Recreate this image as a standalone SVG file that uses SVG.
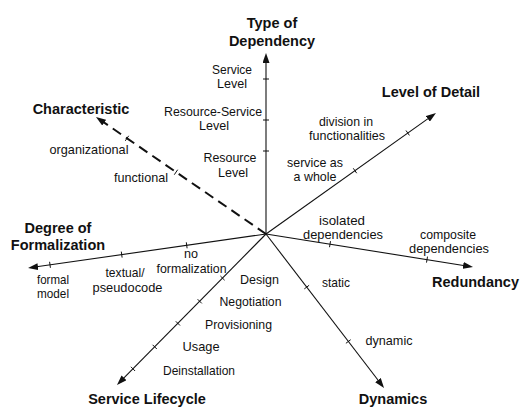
<svg xmlns="http://www.w3.org/2000/svg" width="521" height="407" viewBox="0 0 521 407">
  <style>
    .axis { stroke: #111; stroke-width: 1.1; fill: none; }
    .dash { stroke: #111; stroke-width: 2; fill: none; stroke-dasharray: 10 6; }
    .tick { stroke: #111; stroke-width: 1; }
    .title { font-family: "Liberation Sans", Arial, sans-serif; font-weight: bold; font-size: 14.5px; fill: #111; text-anchor: middle; }
    .lbl { font-family: "Liberation Sans", Arial, sans-serif; font-size: 13.5px; fill: #111; text-anchor: middle; }
  </style>
  <defs>
    <marker id="arrow" viewBox="0 0 10 7" markerWidth="10" markerHeight="7" refX="5" refY="3.5" orient="auto" markerUnits="userSpaceOnUse">
      <path d="M0,0 L10,3.5 L0,7 z" fill="#111"/>
    </marker>
  </defs>

  <!-- axes radiating from the common origin -->
  <g id="connectors">
    <line class="axis" x1="266" y1="234" x2="266" y2="58" marker-end="url(#arrow)"/>
    <line class="axis" x1="266" y1="234" x2="431.9" y2="115.9" marker-end="url(#arrow)"/>
    <line class="axis" x1="266" y1="234" x2="468.1" y2="266.2" marker-end="url(#arrow)"/>
    <line class="axis" x1="266" y1="234" x2="381" y2="384" marker-end="url(#arrow)"/>
    <line class="axis" x1="266" y1="234" x2="120.5" y2="381.4" marker-end="url(#arrow)"/>
    <line class="axis" x1="266" y1="234" x2="33" y2="267.3" marker-end="url(#arrow)"/>
    <line class="dash" x1="266" y1="234" x2="100.1" y2="119.8" marker-end="url(#arrow)"/>
  </g>

  <!-- Type of Dependency -->
  <g id="type-of-dependency">
    <text class="title" x="272" y="28">Type of</text>
    <text class="title" x="272" y="46">Dependency</text>
    <line class="tick" x1="263" y1="79" x2="269" y2="79"/>
    <line class="tick" x1="263" y1="120" x2="269" y2="120"/>
    <line class="tick" x1="263" y1="151" x2="269" y2="151"/>
    <text class="lbl" x="232" y="73.5" textLength="40" lengthAdjust="spacingAndGlyphs">Service</text>
    <text class="lbl" x="232" y="88" textLength="30" lengthAdjust="spacingAndGlyphs">Level</text>
    <text class="lbl" x="213" y="115.5" textLength="98" lengthAdjust="spacingAndGlyphs">Resource-Service</text>
    <text class="lbl" x="214" y="130" textLength="30" lengthAdjust="spacingAndGlyphs">Level</text>
    <text class="lbl" x="230" y="162" textLength="53" lengthAdjust="spacingAndGlyphs">Resource</text>
    <text class="lbl" x="233" y="176.5" textLength="30" lengthAdjust="spacingAndGlyphs">Level</text>
  </g>

  <!-- Level of Detail -->
  <g id="level-of-detail">
    <text class="title" x="431" y="96.5">Level of Detail</text>
    <line class="tick" x1="353.3" y1="168.3" x2="356.7" y2="173.2"/>
    <line class="tick" x1="406" y1="130.5" x2="409.4" y2="135.4"/>
    <text class="lbl" x="346" y="125.5" textLength="54" lengthAdjust="spacingAndGlyphs">division in</text>
    <text class="lbl" x="347" y="140" textLength="76" lengthAdjust="spacingAndGlyphs">functionalities</text>
    <text class="lbl" x="315" y="166.5" textLength="56" lengthAdjust="spacingAndGlyphs">service as</text>
    <text class="lbl" x="315" y="181" textLength="43" lengthAdjust="spacingAndGlyphs">a whole</text>
  </g>

  <!-- Redundancy -->
  <g id="redundancy">
    <text class="title" x="475.5" y="286.5">Redundancy</text>
    <line class="tick" x1="330.5" y1="241.2" x2="329.5" y2="247.2"/>
    <line class="tick" x1="427.5" y1="256.6" x2="426.5" y2="262.6"/>
    <text class="lbl" x="342" y="224.5" textLength="46" lengthAdjust="spacingAndGlyphs">isolated</text>
    <text class="lbl" x="343" y="239" textLength="80" lengthAdjust="spacingAndGlyphs">dependencies</text>
    <text class="lbl" x="448" y="238.5" textLength="56" lengthAdjust="spacingAndGlyphs">composite</text>
    <text class="lbl" x="449" y="253" textLength="80" lengthAdjust="spacingAndGlyphs">dependencies</text>
  </g>

  <!-- Dynamics -->
  <g id="dynamics">
    <text class="title" x="393" y="404">Dynamics</text>
    <line class="tick" x1="304.3" y1="288.9" x2="309.1" y2="285.3"/>
    <line class="tick" x1="345.9" y1="343.3" x2="350.7" y2="339.7"/>
    <text class="lbl" x="336" y="286.5" textLength="28" lengthAdjust="spacingAndGlyphs">static</text>
    <text class="lbl" x="389" y="345" textLength="47" lengthAdjust="spacingAndGlyphs">dynamic</text>
  </g>

  <!-- Service Lifecycle -->
  <g id="service-lifecycle">
    <text class="title" x="147" y="403.5">Service Lifecycle</text>
    <line class="tick" x1="220.4" y1="276" x2="224.6" y2="280.2"/>
    <line class="tick" x1="197.6" y1="299.2" x2="201.8" y2="303.4"/>
    <line class="tick" x1="175.8" y1="321.3" x2="180" y2="325.5"/>
    <line class="tick" x1="152.6" y1="344.8" x2="156.8" y2="349"/>
    <line class="tick" x1="130.9" y1="366.8" x2="135.1" y2="371"/>
    <text class="lbl" x="259.5" y="283.5" textLength="39" lengthAdjust="spacingAndGlyphs">Design</text>
    <text class="lbl" x="250.5" y="306" textLength="62" lengthAdjust="spacingAndGlyphs">Negotiation</text>
    <text class="lbl" x="238.5" y="328.5" textLength="67" lengthAdjust="spacingAndGlyphs">Provisioning</text>
    <text class="lbl" x="201" y="350.5" textLength="37" lengthAdjust="spacingAndGlyphs">Usage</text>
    <text class="lbl" x="199" y="374.5" textLength="72" lengthAdjust="spacingAndGlyphs">Deinstallation</text>
  </g>

  <!-- Degree of Formalization -->
  <g id="degree-of-formalization">
    <text class="title" x="58" y="232.5">Degree of</text>
    <text class="title" x="58" y="250">Formalization</text>
    <line class="tick" x1="49.6" y1="261.8" x2="50.4" y2="267.8"/>
    <line class="tick" x1="121.3" y1="251.6" x2="122.1" y2="257.6"/>
    <line class="tick" x1="186.3" y1="242.3" x2="187.1" y2="248.3"/>
    <text class="lbl" x="53" y="284" textLength="32" lengthAdjust="spacingAndGlyphs">formal</text>
    <text class="lbl" x="53" y="298" textLength="32" lengthAdjust="spacingAndGlyphs">model</text>
    <text class="lbl" x="125" y="276.5" textLength="39" lengthAdjust="spacingAndGlyphs">textual/</text>
    <text class="lbl" x="127.5" y="291.5" textLength="70" lengthAdjust="spacingAndGlyphs">pseudocode</text>
    <text class="lbl" x="191" y="258" textLength="14" lengthAdjust="spacingAndGlyphs">no</text>
    <text class="lbl" x="191.5" y="272.5" textLength="70" lengthAdjust="spacingAndGlyphs">formalization</text>
  </g>

  <!-- Characteristic -->
  <g id="characteristic">
    <text class="title" x="81" y="114">Characteristic</text>
    <line class="tick" x1="125.3" y1="140.8" x2="128.7" y2="135.8"/>
    <line class="tick" x1="174.3" y1="174.7" x2="177.7" y2="169.7"/>
    <text class="lbl" x="89" y="154" textLength="79" lengthAdjust="spacingAndGlyphs">organizational</text>
    <text class="lbl" x="141" y="181.5" textLength="54" lengthAdjust="spacingAndGlyphs">functional</text>
  </g>
</svg>
